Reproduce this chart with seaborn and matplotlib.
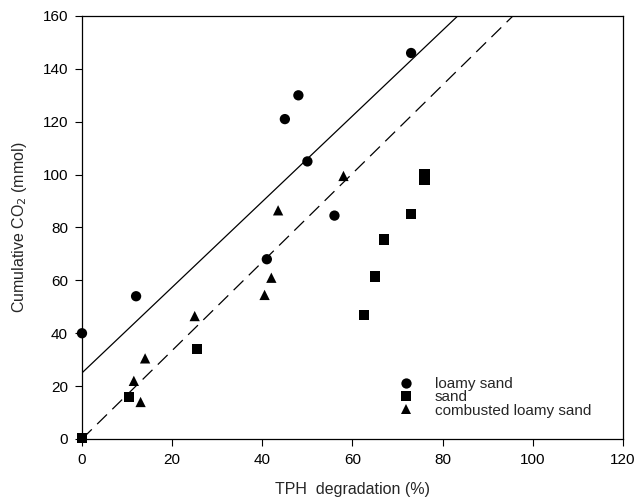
import numpy as np
import pandas as pd
import seaborn as sns
import matplotlib.pyplot as plt

# data
loamy_x = [0, 12, 41, 45, 48, 50, 56, 73]
loamy_y = [40, 54, 68, 121, 130, 105, 84.5, 146]
sand_x = [0, 10.5, 25.5, 62.5, 65, 67, 73, 76, 76]
sand_y = [0.5, 16, 34, 47, 61.5, 75.5, 85, 98, 100]
comb_x = [11.5, 13, 14, 25, 40.5, 42, 43.5, 58]
comb_y = [22, 14, 30.5, 46.5, 54.5, 61, 86.5, 99.5]

# fitted lines (intercept, slope)
fit_solid = (25, 1.62)
fit_dashed = (0, 1.674)

groups = ['loamy sand', 'sand', 'combusted loamy sand']

df = pd.DataFrame({
    'x': loamy_x + sand_x + comb_x,
    'y': loamy_y + sand_y + comb_y,
    'soil': [groups[0]] * len(loamy_x) + [groups[1]] * len(sand_x) + [groups[2]] * len(comb_x),
})

sns.set_style("white")
plt.rcParams['font.family'] = ['Liberation Sans', 'DejaVu Sans']

fig = plt.figure(figsize=(6.38, 5.0), dpi=100)
ax = fig.add_axes([0.1285, 0.122, 0.8480, 0.846])

xs = np.linspace(0, 120, 200)
ax.plot(xs, fit_solid[0] + fit_solid[1] * xs, color='black', lw=0.9)
ax.plot(xs, fit_dashed[0] + fit_dashed[1] * xs, color='black', lw=0.9, dashes=(11, 6))

sns.scatterplot(data=df, x='x', y='y', style='soil', style_order=groups,
                markers={'loamy sand': 'o', 'sand': 's', 'combusted loamy sand': '^'},
                color='black', s=55, edgecolor='black', linewidth=0, ax=ax, clip_on=False, zorder=3)

ax.set_xlim(0, 120)
ax.set_ylim(0, 160)
ax.set_xticks(range(0, 121, 20))
ax.set_yticks(range(0, 161, 20))
ax.tick_params(direction='out', length=5, width=0.8, pad=5, labelsize=11, colors='black',
               bottom=True, left=True)
for sp in ax.spines.values():
    sp.set_color('black')
    sp.set_linewidth(0.9)

ax.set_xlabel('TPH  degradation (%)', fontsize=11.5, labelpad=11)
ax.set_ylabel('Cumulative CO$_2$ (mmol)', fontsize=11.5, labelpad=10)

leg = ax.legend(title=None, frameon=False, loc='lower left', bbox_to_anchor=(0.56, 0.036),
                fontsize=11, handletextpad=0.85, labelspacing=-0.05, borderaxespad=0)

fig.savefig('out.png', dpi=100)
